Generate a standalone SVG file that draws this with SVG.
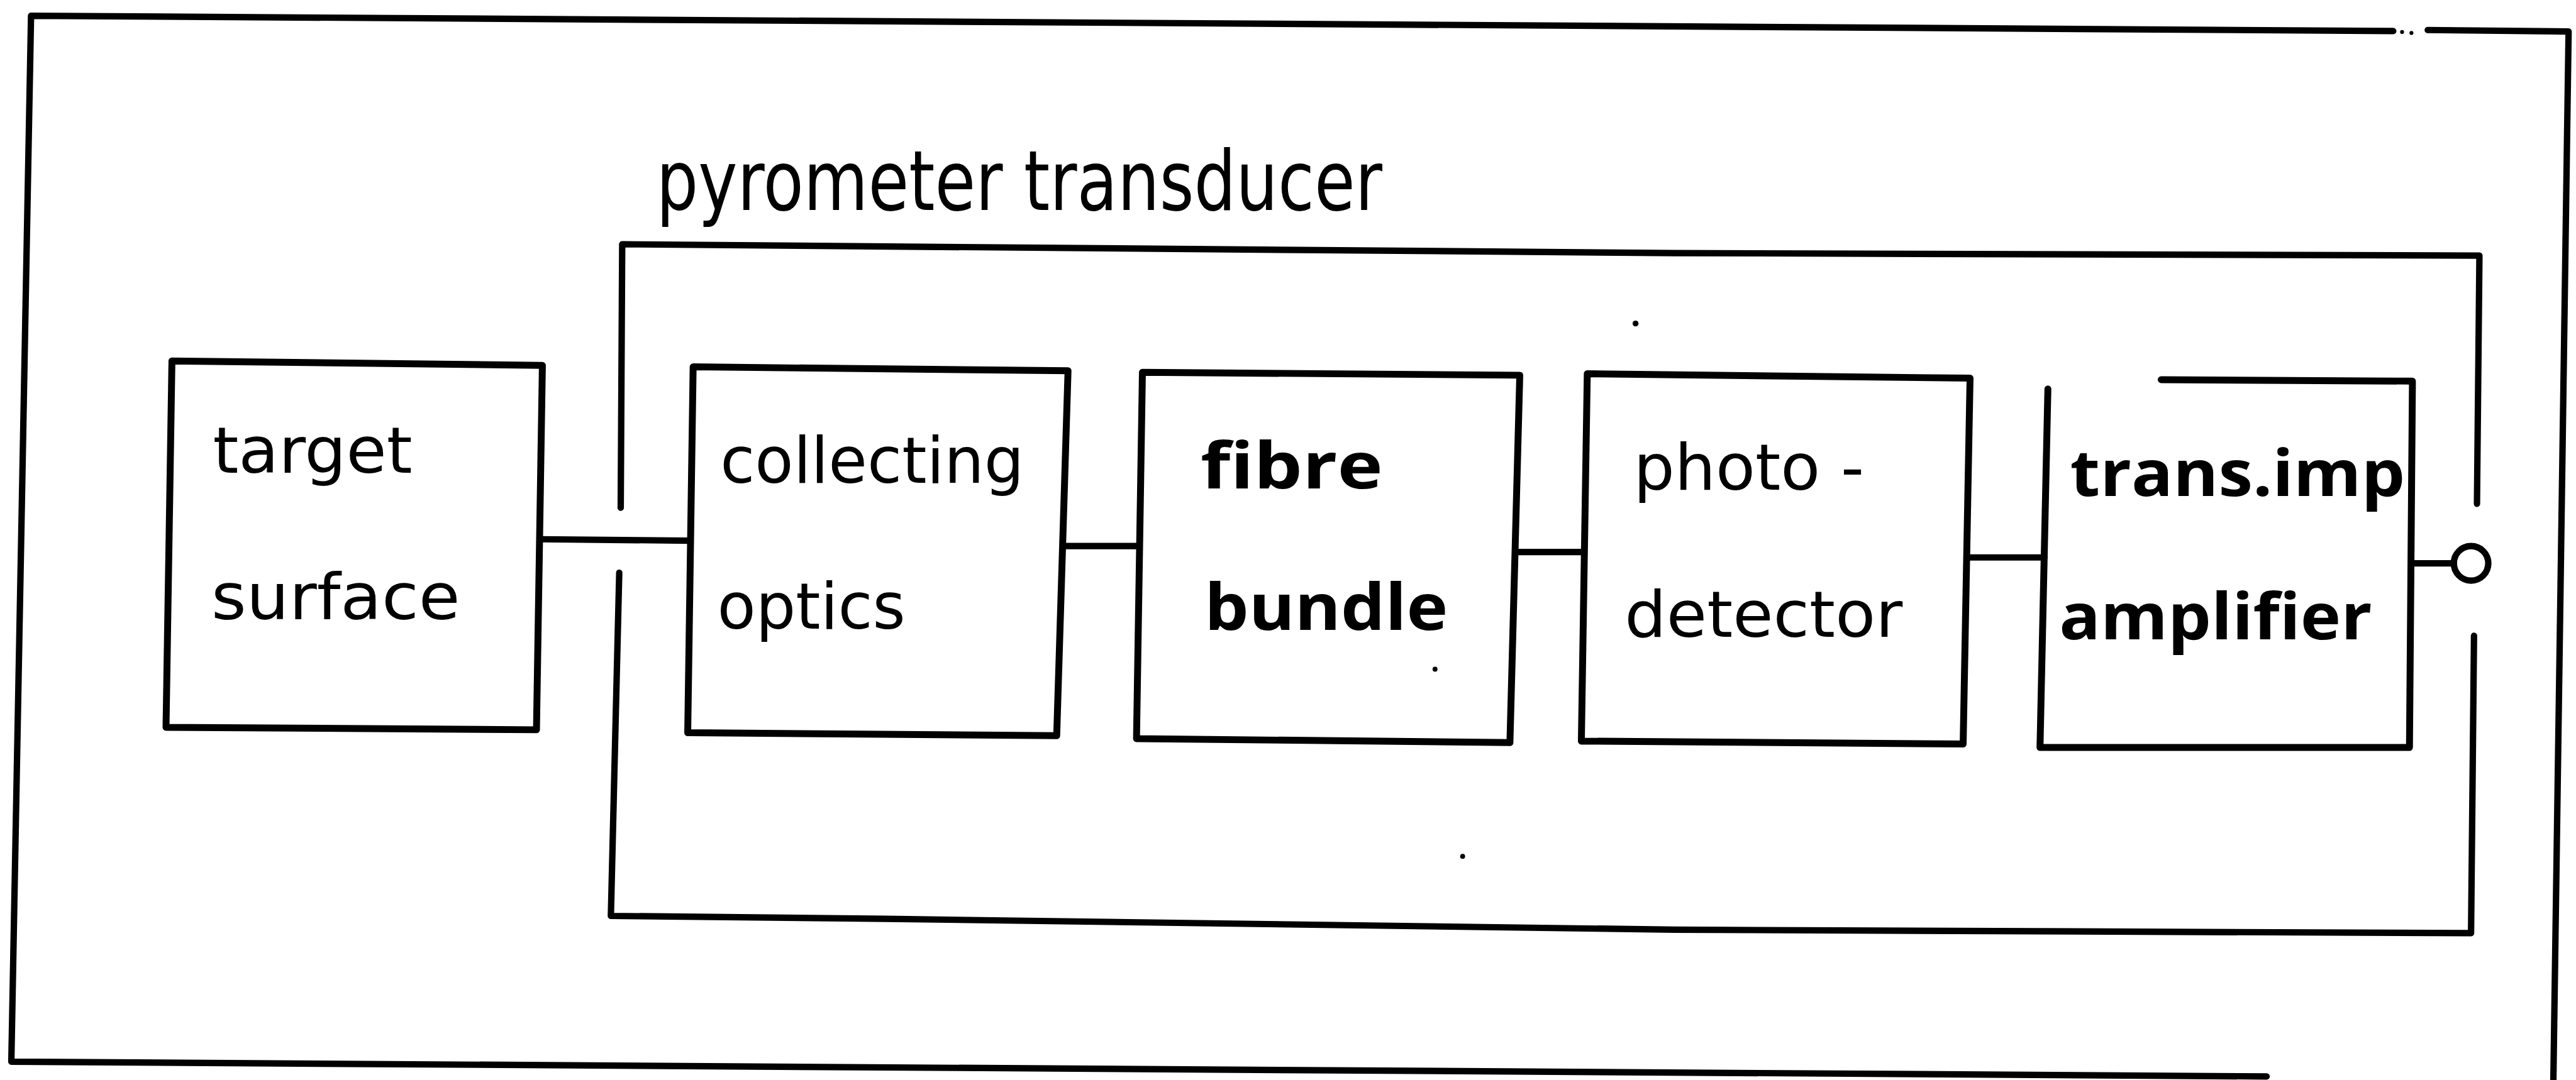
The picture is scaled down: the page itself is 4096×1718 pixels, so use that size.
<svg xmlns="http://www.w3.org/2000/svg" width="4096" height="1718" viewBox="0 0 4096 1718">
<style>
.ln{fill:none;stroke:#000;stroke-width:13;stroke-linecap:round;stroke-linejoin:round}
.bx{fill:#fff;stroke:#000;stroke-width:14;stroke-linejoin:round}
.t{font-family:"DejaVu Sans","Liberation Sans",sans-serif;font-size:130px;fill:#000}
.tb{font-family:"Open Sans","DejaVu Sans",sans-serif;font-size:130px;font-weight:700;fill:#000}
.ttl{font-family:"DejaVu Sans","Liberation Sans",sans-serif;font-size:168px;fill:#000}
.dot{fill:#000}
</style>
<rect width="4096" height="1718" fill="#fff"/>
<g transform="scale(0.78332)">
  <g id="outer-frame">
    <polyline class="ln" points="4858,63 63,32 23,2156 4601,2186"/>
    <polyline class="ln" points="4928,61 5214,64 5183,2200"/>
    <circle class="dot" cx="4876" cy="65" r="4"/>
    <circle class="dot" cx="4895" cy="67" r="4"/>
  </g>
  <g id="pyrometer-transducer">
    <polyline class="ln" points="1260,1031 1263,496 3400,514 5033,519 5028,1023"/>
    <polyline class="ln" points="1257,1163 1240,1860 1800,1866 3400,1888 5016,1895 5022,1291"/>
    <text class="ttl" x="1332" y="427" textLength="1474" lengthAdjust="spacingAndGlyphs">pyrometer transducer</text>
  </g>
  <g id="connectors">
    <line class="ln" x1="1095" y1="1095" x2="1403" y2="1098"/>
    <line class="ln" x1="2150" y1="1109" x2="2313" y2="1109"/>
    <line class="ln" x1="3070" y1="1121" x2="3216" y2="1121"/>
    <line class="ln" x1="3990" y1="1132" x2="4150" y2="1132"/>
    <line class="ln" x1="4894" y1="1144" x2="4981" y2="1144"/>
    <circle class="ln" cx="5016" cy="1144" r="35"/>
  </g>
  <g id="node-target-surface">
    <polygon class="bx" points="349,733 1101,742 1089,1482 337,1477"/>
    <text class="t" x="432" y="960" textLength="405" lengthAdjust="spacingAndGlyphs">target</text>
    <text class="t" x="429" y="1258" textLength="505" lengthAdjust="spacingAndGlyphs">surface</text>
  </g>
  <g id="node-collecting-optics">
    <polygon class="bx" points="1407,745 2168,753 2145,1494 1396,1488"/>
    <text class="t" x="1462" y="980" textLength="617" lengthAdjust="spacingAndGlyphs">collecting</text>
    <text class="t" x="1456" y="1276" textLength="382" lengthAdjust="spacingAndGlyphs">optics</text>
  </g>
  <g id="node-fibre-bundle">
    <polygon class="bx" points="2319,756 3085,762 3065,1508 2307,1500"/>
    <text class="tb" x="2437" y="992" textLength="370" lengthAdjust="spacingAndGlyphs">fibre</text>
    <text class="tb" x="2445" y="1279" textLength="494" lengthAdjust="spacingAndGlyphs">bundle</text>
  </g>
  <g id="node-photo-detector">
    <polygon class="bx" points="3222,759 3999,768 3985,1511 3210,1505"/>
    <text class="t" x="3316" y="994" textLength="468" lengthAdjust="spacingAndGlyphs">photo -</text>
    <text class="t" x="3298" y="1293" textLength="564" lengthAdjust="spacingAndGlyphs">detector</text>
  </g>
  <g id="node-trans-imp-amplifier">
    <polyline class="ln" points="4387,771 4897,774 4891,1518 4141,1518 4157,790" style="stroke-width:14"/>
    <text class="tb" x="4202" y="1007" textLength="680" lengthAdjust="spacingAndGlyphs">trans.imp</text>
    <text class="tb" x="4180" y="1298" textLength="635" lengthAdjust="spacingAndGlyphs">amplifier</text>
  </g>
  <g id="specks">
    <circle class="dot" cx="3320" cy="657" r="6"/>
    <circle class="dot" cx="2913" cy="1359" r="5"/>
    <circle class="dot" cx="2969" cy="1739" r="5"/>
  </g>
</g>
</svg>
